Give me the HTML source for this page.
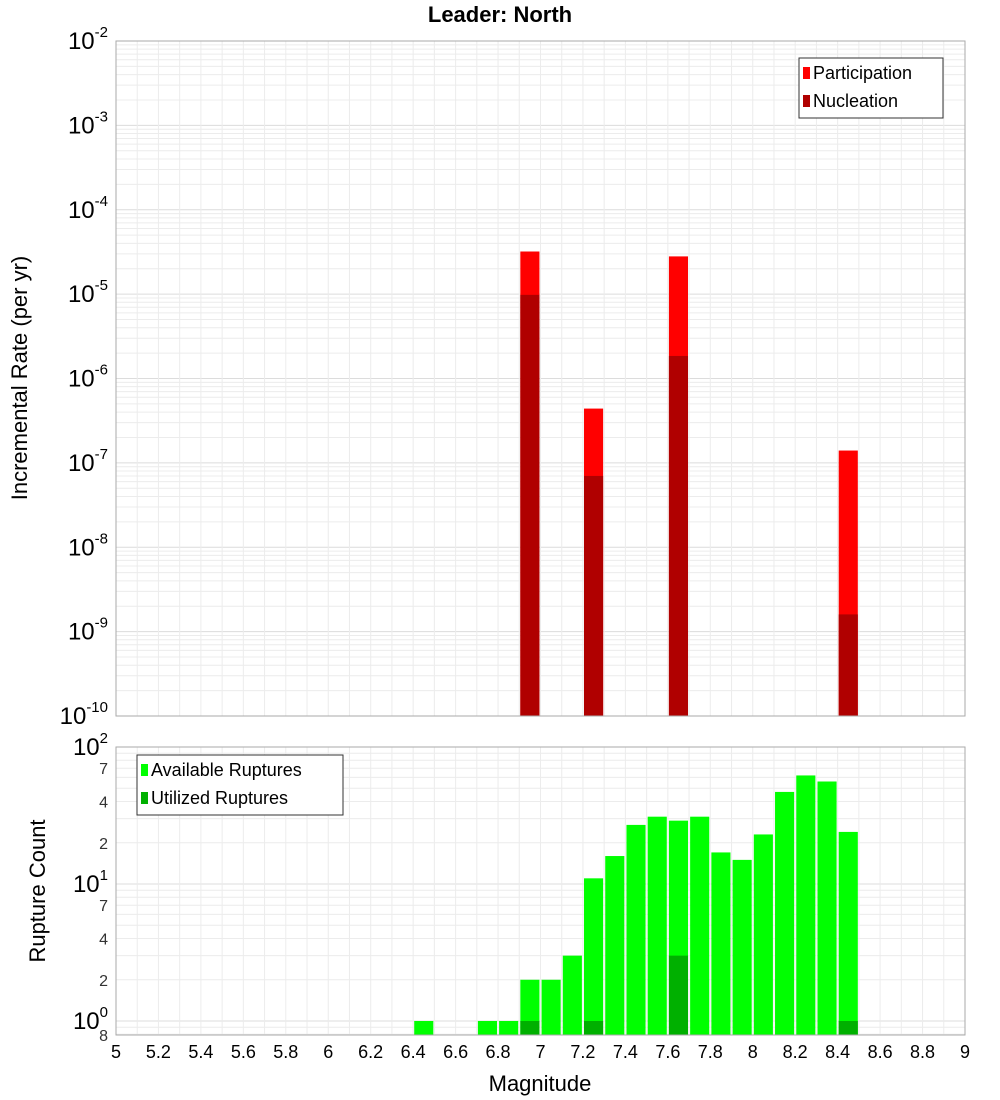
<!DOCTYPE html>
<html><head><meta charset="utf-8"><style>body{margin:0;background:#fff}svg{display:block;font-family:"Liberation Sans","DejaVu Sans",sans-serif}</style></head>
<body>
<svg id="c" width="1000" height="1100" xmlns="http://www.w3.org/2000/svg"></svg>
<script>
const rateMags=[6.95,7.25,7.65,8.45];
const participation=[3.2e-5,4.4e-7,2.8e-5,1.4e-7];
const nucleation=[9.8e-6,7e-8,1.85e-6,1.6e-9];
const countMags=[6.45,6.75,6.85,6.95,7.05,7.15,7.25,7.35,7.45,7.55,7.65,7.75,7.85,7.95,8.05,8.15,8.25,8.35,8.45];
const available=[1,1,1,2,2,3,11,16,27,31,29,31,17,15,23,47,62,56,24];
const utilMags=[6.95,7.25,7.65,8.45];
const utilized=[1,1,3,1];
const xTicks=[5,5.2,5.4,5.6,5.8,6,6.2,6.4,6.6,6.8,7,7.2,7.4,7.6,7.8,8,8.2,8.4,8.6,8.8,9];

const NS="http://www.w3.org/2000/svg";
const svg=document.getElementById('c');
function el(t,a,p){const e=document.createElementNS(NS,t);for(const k in a)e.setAttribute(k,a[k]);(p||svg).appendChild(e);return e;}
const L=116,R=965;
const x=m=>L+(m-5)/4*(R-L);
const T1=41,B1=716;
const y1=v=>T1+(-2-Math.log10(v))*(B1-T1)/8;
const T2=747,B2=1035;
const y2=v=>747+(2-Math.log10(v))*137;

// frames & grids
function grid(top,bot,yf,decs){
  for(const d of decs){for(let k=1;k<10;k++){const v=k*Math.pow(10,d);const yy=yf(v);if(yy<top-0.5||yy>bot+0.5)continue;
    const g=el('line',{x1:L,x2:R,y1:yy,y2:yy,stroke:k==1?'#dcdcdc':'#ececec','stroke-width':1});
    
    }}
  for(let m=5;m<=9.001;m+=0.1){const g=el('line',{x1:x(m),x2:x(m),y1:top,y2:bot,stroke:'#ececec'});
    
    }
}
grid(T1,B1,y1,[-10,-9,-8,-7,-6,-5,-4,-3,-2]);
grid(T2,B2,y2,[-1,0,1,2]);

// top bars
rateMags.forEach((m,i)=>{
  const p=el('rect',{x:x(m-0.045),y:y1(participation[i]),width:x(m+0.045)-x(m-0.045),height:B1-y1(participation[i]),fill:'#ff0000'});
  
  
  const n=el('rect',{x:x(m-0.045),y:y1(nucleation[i]),width:x(m+0.045)-x(m-0.045),height:B1-y1(nucleation[i]),fill:'#b00000'});
  
  
});
// bottom bars
countMags.forEach((m,i)=>{
  const r=el('rect',{x:x(m-0.045),y:y2(available[i]),width:x(m+0.045)-x(m-0.045),height:B2-y2(available[i]),fill:'#00ff00'});
  
  
});
utilMags.forEach((m,i)=>{
  const r=el('rect',{x:x(m-0.045),y:y2(utilized[i]),width:x(m+0.045)-x(m-0.045),height:B2-y2(utilized[i]),fill:'#00b000'});
  
  
});
[[T1,B1],[T2,B2]].forEach(([t,b])=>{const f=el('rect',{x:L,y:t,width:R-L,height:b-t,fill:'none',stroke:'#aaa'});
  
  });

// top y labels
for(let d=-2;d>=-10;d--){
  const t=el('text',{x:L-8,y:y1(Math.pow(10,d))+8,'text-anchor':'end','font-size':24});
  t.innerHTML='10<tspan dy="-12" font-size="15">'+d+'</tspan>';
  
  
}
// bottom y labels
[[100,'10','2'],[10,'10','1'],[1,'10','0']].forEach(([v,b,e])=>{
  const t=el('text',{x:L-8,y:y2(v)+8,'text-anchor':'end','font-size':24});
  t.innerHTML=b+'<tspan dy="-12" font-size="15">'+e+'</tspan>';
  
  
});
[70,40,20,7,4,2].forEach(v=>{
  const t=el('text',{x:L-8,y:y2(v)+6,'text-anchor':'end','font-size':16,fill:'#333'});
  t.textContent=String(v).charAt(0);
  
  
});
const e8=el('text',{x:L-8,y:1041,'text-anchor':'end','font-size':16,fill:'#333'});e8.textContent='8';



xTicks.forEach(m=>{
  const t=el('text',{x:x(m),y:1058,'text-anchor':'middle','font-size':18});
  t.textContent=String(m);
  
  
});

function txt(s,a,name){const t=el('text',a);t.textContent=s;return t;}
txt('Leader: North',{x:500,y:22,'text-anchor':'middle','font-size':22,'font-weight':'bold'},'chart-title');
txt('Magnitude',{x:540,y:1091,'text-anchor':'middle','font-size':22},'x-axis-title');
txt('Incremental Rate (per yr)',{x:0,y:0,'text-anchor':'middle','font-size':22,transform:'translate(27,378) rotate(-90)'},'y-axis-title-top');
txt('Rupture Count',{x:0,y:0,'text-anchor':'middle','font-size':22,transform:'translate(45,891) rotate(-90)'},'y-axis-title-bottom');

// legends
function legend(x0,y0,w,h,items,name){
  const g=el('g',{});
  el('rect',{x:x0,y:y0,width:w,height:h,fill:'#fff',stroke:'#333'},g);
  items.forEach(([c,s],i)=>{
    el('rect',{x:x0+4,y:y0+9+i*28,width:7,height:12,fill:c},g);
    const t=el('text',{x:x0+14,y:y0+21+i*28,'font-size':18},g);t.textContent=s;
  });
}
legend(799,58,144,60,[['#ff0000','Participation'],['#b00000','Nucleation']],'legend-top');
legend(137,755,206,60,[['#00ff00','Available Ruptures'],['#00b000','Utilized Ruptures']],'legend-bottom');
</script>
</body></html>
